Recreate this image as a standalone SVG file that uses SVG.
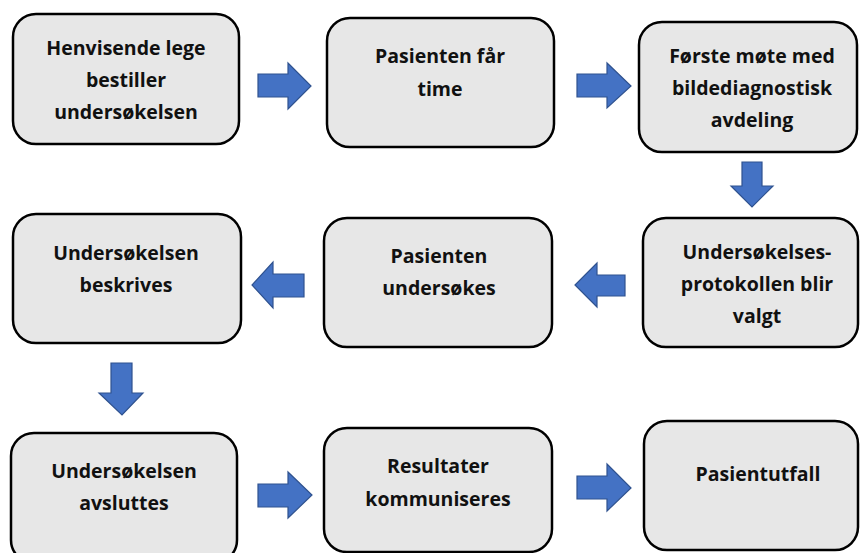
<svg xmlns="http://www.w3.org/2000/svg" width="860" height="553" viewBox="0 0 860 553">
<style>
.box{fill:#e7e7e7;stroke:#000;stroke-width:2.5}
.t{font-family:"Open Sans","Noto Sans","Liberation Sans",sans-serif;font-weight:bold;font-size:19.5px;fill:#111;text-anchor:middle}
.arr{fill:#4472c4;stroke:#2f528f;stroke-width:1.2;stroke-linejoin:miter}
</style>
<rect width="860" height="553" fill="#fff"/>
<g id="n1"><rect class="box" x="13" y="14" width="226" height="130" rx="23"/>
<text class="t" x="126" y="55">Henvisende lege</text><text class="t" x="126" y="87">bestiller</text><text class="t" x="126" y="119">undersøkelsen</text></g>
<g id="n2"><rect class="box" x="327" y="18" width="227" height="129" rx="23"/>
<text class="t" x="440" y="63">Pasienten får</text><text class="t" x="440" y="96">time</text></g>
<g id="n3"><rect class="box" x="639" y="22" width="218" height="130" rx="23"/>
<text class="t" x="752" y="63">Første møte med</text><text class="t" x="752" y="95">bildediagnostisk</text><text class="t" x="752" y="127">avdeling</text></g>
<g id="n4"><rect class="box" x="643" y="218" width="215" height="129" rx="23"/>
<text class="t" x="757" y="259">Undersøkelses-</text><text class="t" x="757" y="291">protokollen blir</text><text class="t" x="757" y="323">valgt</text></g>
<g id="n5"><rect class="box" x="324" y="218" width="228" height="129" rx="23"/>
<text class="t" x="439" y="263">Pasienten</text><text class="t" x="439" y="295">undersøkes</text></g>
<g id="n6"><rect class="box" x="13" y="214" width="228" height="129" rx="23"/>
<text class="t" x="126" y="260">Undersøkelsen</text><text class="t" x="126" y="292">beskrives</text></g>
<g id="n7"><rect class="box" x="11" y="433" width="226" height="130" rx="23"/>
<text class="t" x="124" y="478">Undersøkelsen</text><text class="t" x="124" y="510">avsluttes</text></g>
<g id="n8"><rect class="box" x="324" y="428" width="228" height="124" rx="23"/>
<text class="t" x="438" y="473">Resultater</text><text class="t" x="438" y="506">kommuniseres</text></g>
<g id="n9"><rect class="box" x="644" y="421" width="214" height="129" rx="23"/>
<text class="t" x="758" y="481">Pasientutfall</text></g>
<g id="connectors">
<polygon class="arr" points="258,74 288,74 288,63 311,86 288,109 288,97 258,97"/>
<polygon class="arr" points="577,74 607,74 607,63 631,86 607,108 607,97 577,97"/>
<polygon class="arr" points="742,162 762,162 762,186 773,186 752,207 731,186 742,186"/>
<polygon class="arr" points="625,275 597,275 597,263 575,285 597,307 597,296 625,296"/>
<polygon class="arr" points="304,274 273,274 273,262 252,285 273,308 273,297 304,297"/>
<polygon class="arr" points="111,363 132,363 132,393 143,393 122,415 99,393 111,393"/>
<polygon class="arr" points="258,484 288,484 288,472 312,495 288,518 288,507 258,507"/>
<polygon class="arr" points="577,476 607,476 607,464 631,488 607,511 607,499 577,499"/>
</g>
</svg>
